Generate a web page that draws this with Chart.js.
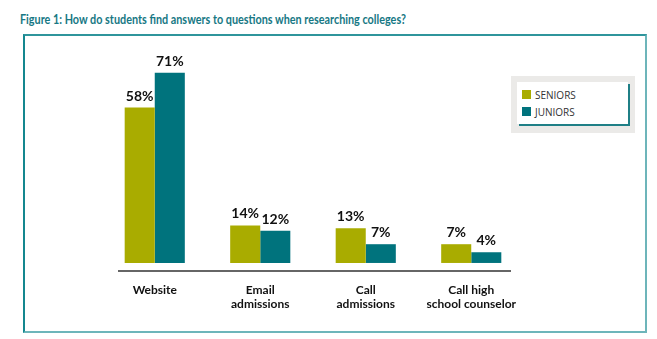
<!DOCTYPE html>
<html>
<head>
<meta charset="utf-8">
<script src="https://cdn.jsdelivr.net/npm/chart.js@4.4.1/dist/chart.umd.min.js"></script>
<style>
  html, body { margin: 0; padding: 0; background: #fff; }
  body { width: 657px; height: 339px; position: relative; overflow: hidden; font-family: Lato, "Open Sans", sans-serif; }
  #title {
    position: absolute; left: 20px; top: 10px;
    font: bold 14px Lato, sans-serif; color: #177884;
    white-space: nowrap; transform-origin: left top;
  }
  #frame {
    position: absolute; left: 23px; top: 34px; width: 620px; height: 295px;
    border-left: 2px solid #14878f; border-top: 2px solid #2f959c;
    border-right: 2px solid #6db5ba; border-bottom: 2px solid #6db5ba;
  }
  #chart { position: absolute; left: 0; top: 0; }
  #legend {
    position: absolute; left: 511px; top: 76px; width: 124px; height: 57px;
    background: #ebeae8;
  }
  #legend .inner {
    position: absolute; left: 6px; top: 6px; width: 111px; height: 42px;
    background: #fff; box-shadow: 2px 2px 0 #1f7f86;
  }
  #legend .item {
    position: absolute; left: 5px; height: 10px; font: 10px "Open Sans", sans-serif; color: #333;
    line-height: 10px; white-space: nowrap;
  }
  #legend .box { display: inline-block; width: 9px; height: 9px; vertical-align: top; margin-right: 4px; }
</style>
</head>
<body>
<div id="title">Figure 1: How do students find answers to questions when researching colleges?</div>
<div id="frame"></div>
<canvas id="chart" width="657" height="339"></canvas>
<div id="legend"><div class="inner" id="legend-inner"></div></div>
<script>
// Chart data
const categories = ['Website', ['Email', 'admissions'], ['Call', 'admissions'], ['Call high', 'school counselor']];
const seniors = [58, 14, 13, 7];
const juniors = [71, 12, 7, 4];
const seriesNames = ['SENIORS', 'JUNIORS'];
const seriesColors = ['#a9ac00', '#00737d'];

// Squeeze the title to the condensed width of the original
const title = document.getElementById('title');
title.style.transform = 'scaleX(' + (386 / title.offsetWidth) + ')';

// Value labels above each bar
const valueLabels = {
    id: 'valueLabels',
    afterDatasetsDraw(chart) {
        const ctx = chart.ctx;
        ctx.save();
        ctx.font = 'bold 14px Lato, sans-serif';
        ctx.fillStyle = '#111';
        ctx.textAlign = 'center';
        ctx.textBaseline = 'alphabetic';
        chart.data.datasets.forEach((ds, i) => {
            chart.getDatasetMeta(i).data.forEach((bar, j) => {
                ctx.fillText(ds.data[j] + '%', bar.x, bar.y - 7);
            });
        });
        ctx.restore();
    }
};

// Baseline under the bars, a little below them
const baseLine = {
    id: 'baseLine',
    afterDraw(chart) {
        const ctx = chart.ctx;
        const y = chart.chartArea.bottom;
        ctx.save();
        ctx.strokeStyle = '#333';
        ctx.lineWidth = 1.5;
        ctx.beginPath();
        ctx.moveTo(118, y);
        ctx.lineTo(511, y);
        ctx.stroke();
        ctx.restore();
    }
};

const chart = new Chart(document.getElementById('chart').getContext('2d'), {
    type: 'bar',
    data: {
        labels: categories,
        datasets: [
            { label: seriesNames[0], data: seniors, backgroundColor: seriesColors[0] },
            { label: seriesNames[1], data: juniors, backgroundColor: seriesColors[1] }
        ]
    },
    options: {
        responsive: false,
        animation: false,
        layout: { padding: { left: 102, right: 133, top: 62, bottom: 0 } },
        categoryPercentage: 0.57,
        barPercentage: 1,
        plugins: { legend: { display: false }, tooltip: { enabled: false } },
        scales: {
            x: {
                grid: { display: false, drawTicks: false },
                border: { display: false },
                ticks: { color: '#111', font: { family: 'Lato', size: 12, weight: 'bold', lineHeight: 1.2 }, padding: 12, maxRotation: 0, autoSkip: false },
                afterFit(scale) { scale.height = 68; }
            },
            y: {
                display: false,
                min: -3,
                max: 75
            }
        }
    },
    plugins: [valueLabels, baseLine]
});

// Legend built from the datasets
const legendInner = document.getElementById('legend-inner');
chart.data.datasets.forEach((ds, i) => {
    const item = document.createElement('div');
    item.className = 'item';
    item.style.top = (8 + i * 17) + 'px';
    item.innerHTML = `<span class="box" style="background:${ds.backgroundColor}"></span>${ds.label}`;
    legendInner.appendChild(item);
});
</script>
</body>
</html>
